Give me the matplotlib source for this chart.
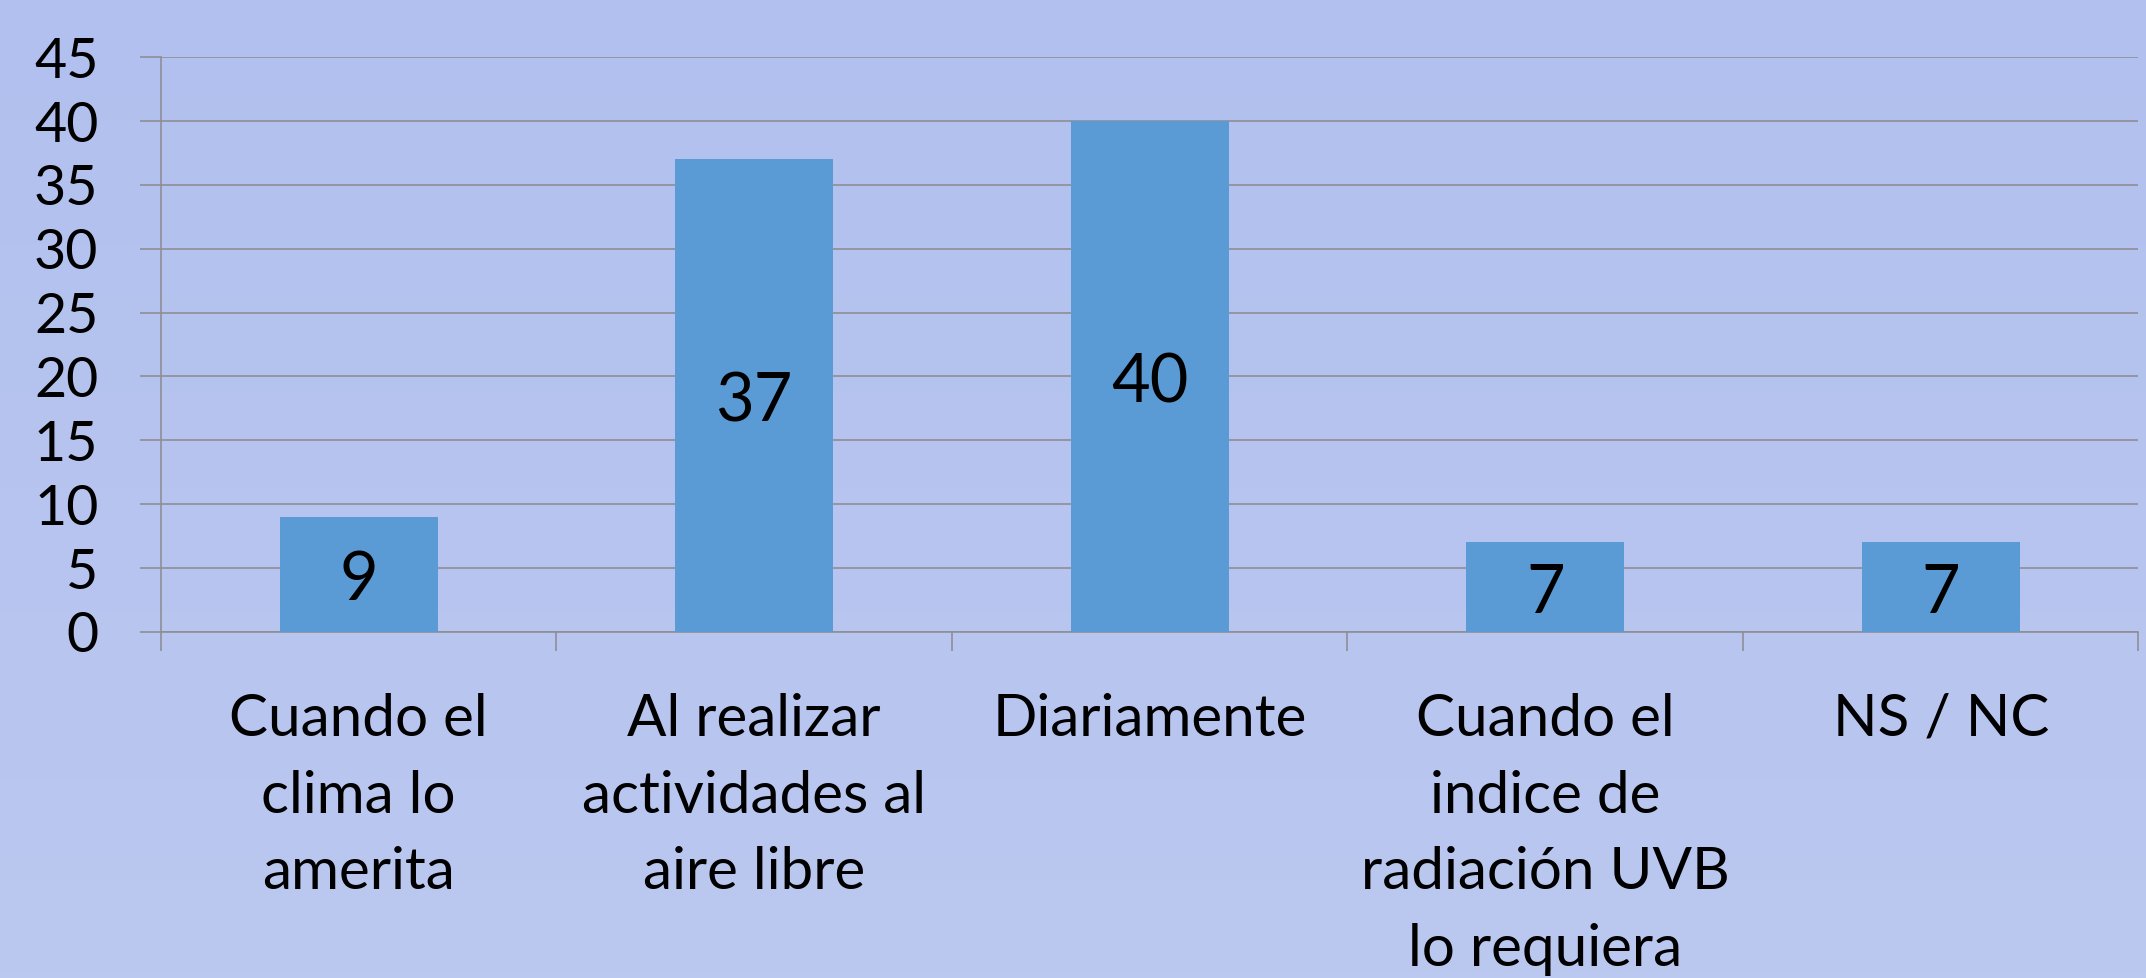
import numpy as np
import matplotlib
matplotlib.use("Agg")
import matplotlib.pyplot as plt
from matplotlib.colors import LinearSegmentedColormap

categories = [
    "Cuando el\nclima lo\namerita",
    "Al realizar\nactividades al\naire libre",
    "Diariamente",
    "Cuando el\nindice de\nradiación UVB\nlo requiera",
    "NS / NC",
]
values = [9, 37, 40, 7, 7]
yticks = list(range(0, 50, 5))

BAR = "#5b9bd5"
GRID = "#8e8e96"
BG_TOP = "#b1c0ee"
BG_BOTTOM = "#bbc8f0"

plt.rcParams["font.family"] = ["Lato", "DejaVu Sans"]

fig = plt.figure(figsize=(21.46, 9.781), dpi=100)

# soft vertical gradient behind everything
bg = fig.add_axes([0, 0, 1, 1], zorder=-10)
bg.set_axis_off()
cmap = LinearSegmentedColormap.from_list("bg", [BG_TOP, BG_BOTTOM])
bg.imshow(np.linspace(0, 1, 256)[:, None], aspect="auto", cmap=cmap,
          extent=[0, 1, 0, 1])

ax = fig.add_axes([0.075, 0.354, 0.9215, 0.5875])
ax.set_facecolor("none")

x = np.arange(len(categories))
ax.bar(x, values, width=0.4, color=BAR, zorder=3)
for xi, v in zip(x, values):
    # value sits mid-bar, nudged down a touch like the original
    ax.annotate(str(v), (xi, v / 2), xytext=(0, -5), textcoords="offset points",
                ha="center", va="center", fontsize=48, zorder=4)

ax.set_xlim(-0.5, len(categories) - 0.5)
ax.set_ylim(0, 45)
ax.set_yticks(yticks)
ax.tick_params(axis="y", labelsize=40, length=15, width=1.2, color=GRID, pad=30)
ax.grid(axis="y", color=GRID, linewidth=1.2, zorder=0)

ax.set_xticks(x)
ax.set_xticklabels(categories, fontsize=42, linespacing=1.55)
ax.set_xticks(np.arange(-0.5, len(categories)), minor=True)
ax.tick_params(axis="x", which="major", length=0, pad=44)
ax.tick_params(axis="x", which="minor", length=14, width=1.2, color=GRID)

for side in ("top", "right"):
    ax.spines[side].set_visible(False)
for side in ("left", "bottom"):
    ax.spines[side].set_color(GRID)
    ax.spines[side].set_linewidth(1.2)

fig.savefig("out.png", dpi=100)
